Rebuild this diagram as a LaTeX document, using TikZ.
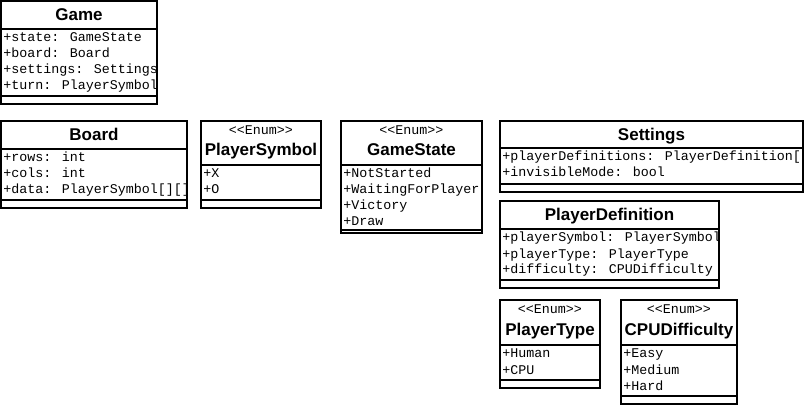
\documentclass[tikz,border=0pt]{standalone}
\usepackage{fontspec}
\setmainfont{Liberation Sans}
\newfontfamily\monof{Liberation Mono}
\newfontfamily\titlef{Liberation Sans}
% #1 id, #2 left, #3 top, #4 right, #5 title divider y, #6 bottom y, #7 bottom divider y, #8 attribute list
\newcommand\umlclass[8]{%
  \begin{scope}
    \clip (#2,#3) rectangle (#4,#6);
    \foreach \t [count=\i] in {#8} {\node[attr] (#1-a\i) at ({#2+2},{#5+13+16*(\i-1)}) {\t};}
  \end{scope}
  \draw[box] (#2,#3) rectangle (#4,#6);
  \draw[box] (#2,#5) -- (#4,#5);
  \draw[box] (#2,#7) -- (#4,#7);
}
\begin{document}
\begin{tikzpicture}[x=0.75pt,y=-0.75pt,
  box/.style={draw=black,line width=1.5pt},
  attr/.style={font=\monof\fontsize{10pt}{12pt}\selectfont,anchor=base west,inner sep=0pt},
  ttl/.style={font=\titlef\bfseries\fontsize{12.75pt}{15pt}\selectfont,anchor=base,inner sep=0pt},
  stereo/.style={font=\monof\fontsize{10pt}{12pt}\selectfont,anchor=base,inner sep=0pt}]
\fill[white] (0,0) rectangle (804,406);
\useasboundingbox (0,0) rectangle (804,406);

% Game
\umlclass{game}{1}{1}{157}{29}{104}{96}{+state: GameState, +board: Board, +settings: Settings, +turn: PlayerSymbol}
\node[ttl] (game) at (79,21) {Game};

% Board
\umlclass{board}{1}{121}{187}{149}{208}{200}{+rows: int, +cols: int, +data: PlayerSymbol[][]}
\node[ttl] (board) at (94,141) {Board};

% PlayerSymbol
\umlclass{psym}{201}{121}{321}{165}{208}{200}{+X, +O}
\node[stereo] (psym-st) at (261,135) {{<}{<}Enum{>}{>}};
\node[ttl] (psym) at (261,156) {PlayerSymbol};

% GameState
\umlclass{gstate}{341}{121}{482}{165}{233}{230}{+NotStarted, +WaitingForPlayer, +Victory, +Draw}
\node[stereo] (gstate-st) at (411.5,135) {{<}{<}Enum{>}{>}};
\node[ttl] (gstate) at (411.5,156) {GameState};

% Settings
\umlclass{settings}{500}{121}{803}{148}{192}{184}{+playerDefinitions: PlayerDefinition[], +invisibleMode: bool}
\node[ttl] (settings) at (651.5,141) {Settings};

% PlayerDefinition
\umlclass{pdef}{500}{201}{719}{229}{288}{280}{+playerSymbol: PlayerSymbol, +playerType: PlayerType, +difficulty: CPUDifficulty}
\node[ttl] (pdef) at (609.5,221) {PlayerDefinition};

% PlayerType
\umlclass{ptype}{500}{300}{600}{345}{388}{380}{+Human, +CPU}
\node[stereo] (ptype-st) at (550,314) {{<}{<}Enum{>}{>}};
\node[ttl] (ptype) at (550,335) {PlayerType};

% CPUDifficulty
\umlclass{cpud}{621}{300}{737}{345}{404}{396}{+Easy, +Medium, +Hard}
\node[stereo] (cpud-st) at (679,314) {{<}{<}Enum{>}{>}};
\node[ttl] (cpud) at (679,335) {CPUDifficulty};
\end{tikzpicture}
\end{document}
